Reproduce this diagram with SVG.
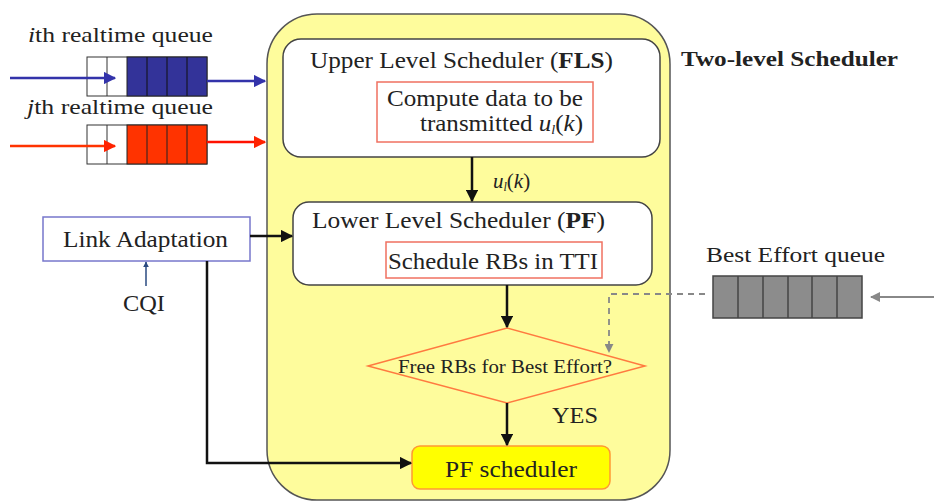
<svg xmlns="http://www.w3.org/2000/svg" width="934" height="501" viewBox="0 0 934 501">
<defs>
<style>
text{font-family:"Liberation Serif","Times New Roman",serif;fill:#222}
.t22{font-size:23px}
.t20{font-size:21px}
.box{fill:#fff;stroke:#444;stroke-width:1.5}
.red{fill:#fff;stroke:#f07060;stroke-width:1.5}
.blk{stroke:#111;stroke-width:2.5;fill:none}
</style>
<marker id="ab" viewBox="0 0 10 10" refX="9" refY="5" markerWidth="5" markerHeight="5" orient="auto"><path d="M0,0L10,5L0,10z" fill="#111"/></marker>
<marker id="ablue" viewBox="0 0 10 10" refX="9" refY="5" markerWidth="5" markerHeight="5" orient="auto"><path d="M0,0L10,5L0,10z" fill="#3333aa"/></marker>
<marker id="ared" viewBox="0 0 10 10" refX="9" refY="5" markerWidth="5" markerHeight="5" orient="auto"><path d="M0,0L10,5L0,10z" fill="#ff2200"/></marker>
<marker id="agray" viewBox="0 0 10 10" refX="9" refY="5" markerWidth="5" markerHeight="5" orient="auto"><path d="M0,0L10,5L0,10z" fill="#888"/></marker>
<marker id="asm" viewBox="0 0 10 10" refX="9" refY="5" markerWidth="4" markerHeight="4" orient="auto"><path d="M0,0L10,5L0,10z" fill="#2a4a80"/></marker>
</defs>
<rect width="934" height="501" fill="#fff"/>

<g id="container">
<rect x="267" y="14" width="403" height="486" rx="50" fill="#fefc9c" stroke="#555" stroke-width="1.5"/>
<text x="681" y="66" style="font-size:20px;font-weight:bold" textLength="217" lengthAdjust="spacingAndGlyphs">Two-level Scheduler</text>
</g>

<g id="queue-i">
<text x="28" y="42" class="t20" textLength="185" lengthAdjust="spacingAndGlyphs"><tspan font-style="italic">i</tspan>th realtime  queue</text>
<rect x="87" y="57" width="120" height="39" fill="#fff" stroke="#333"/>
<line x1="107" y1="57" x2="107" y2="96" stroke="#333"/>
<rect x="127" y="57" width="80" height="39" fill="#333399" stroke="#222"/>
<line x1="147" y1="57" x2="147" y2="96" stroke="#111"/>
<line x1="167" y1="57" x2="167" y2="96" stroke="#111"/>
<line x1="187" y1="57" x2="187" y2="96" stroke="#111"/>
</g>

<g id="queue-j">
<text x="27" y="114" class="t20" textLength="186" lengthAdjust="spacingAndGlyphs"><tspan font-style="italic">j</tspan>th realtime  queue</text>
<rect x="87" y="125" width="120" height="39" fill="#fff" stroke="#333"/>
<line x1="107" y1="125" x2="107" y2="164" stroke="#333"/>
<rect x="127" y="125" width="80" height="39" fill="#ff3300" stroke="#222"/>
<line x1="147" y1="125" x2="147" y2="164" stroke="#222"/>
<line x1="167" y1="125" x2="167" y2="164" stroke="#222"/>
<line x1="187" y1="125" x2="187" y2="164" stroke="#222"/>
</g>

<g id="upper">
<rect x="283" y="39" width="377" height="118" rx="18" class="box"/>
<text x="310" y="68" class="t22" textLength="303" lengthAdjust="spacingAndGlyphs">Upper Level  Scheduler (<tspan font-weight="bold">FLS</tspan>)</text>
<rect x="377" y="82" width="216" height="60" class="red"/>
<text x="387" y="106" class="t22" textLength="196" lengthAdjust="spacingAndGlyphs">Compute data to be</text>
<text x="420" y="131" class="t22" textLength="163" lengthAdjust="spacingAndGlyphs">transmitted <tspan font-style="italic">u</tspan><tspan font-style="italic" font-size="13" dy="3">l</tspan><tspan dy="-3">(</tspan><tspan font-style="italic">k</tspan>)</text>
</g>

<g id="lower">
<rect x="293" y="202" width="359" height="83" rx="16" class="box"/>
<text x="312" y="228" class="t22" textLength="293" lengthAdjust="spacingAndGlyphs">Lower Level  Scheduler (<tspan font-weight="bold">PF</tspan>)</text>
<rect x="386" y="242" width="216" height="36" class="red"/>
<text x="388" y="269" class="t22" textLength="210" lengthAdjust="spacingAndGlyphs">Schedule RBs in TTI</text>
</g>

<g id="link">
<rect x="43" y="217" width="207" height="44" fill="#fff" stroke="#7777cc" stroke-width="1.5"/>
<text x="63" y="247" class="t22" textLength="165" lengthAdjust="spacingAndGlyphs">Link Adaptation</text>
</g>

<g id="cqi">
<text x="123" y="311" class="t22" textLength="42" lengthAdjust="spacingAndGlyphs">CQI</text>
</g>

<g id="best-effort">
<text x="706" y="262" class="t20" textLength="179" lengthAdjust="spacingAndGlyphs">Best Effort queue</text>
<rect x="713" y="276" width="149" height="42" fill="#8c8c8c" stroke="#444" stroke-width="1.5"/>
<line x1="738" y1="276" x2="738" y2="318" stroke="#444" stroke-width="1.5"/>
<line x1="763" y1="276" x2="763" y2="318" stroke="#444" stroke-width="1.5"/>
<line x1="788" y1="276" x2="788" y2="318" stroke="#444" stroke-width="1.5"/>
<line x1="812" y1="276" x2="812" y2="318" stroke="#444" stroke-width="1.5"/>
<line x1="837" y1="276" x2="837" y2="318" stroke="#444" stroke-width="1.5"/>
</g>

<g id="decision">
<polygon points="368,366 507,328 645,366 507,403" fill="none" stroke="#ff7a40" stroke-width="1.5"/>
<text x="398" y="373" style="font-size:18px" textLength="214" lengthAdjust="spacingAndGlyphs">Free RBs for Best Effort?</text>
</g>

<g id="pf">
<rect x="412" y="446" width="198" height="43" rx="8" fill="#ffff00" stroke="#ff9933" stroke-width="1.5"/>
<text x="445" y="477" class="t22" textLength="132" lengthAdjust="spacingAndGlyphs">PF scheduler</text>
</g>

<g id="connectors">
<line x1="10" y1="78" x2="115" y2="78" stroke="#3333aa" stroke-width="2.5" marker-end="url(#ablue)"/>
<line x1="207" y1="81" x2="265" y2="81" stroke="#3333aa" stroke-width="2.5" marker-end="url(#ablue)"/>
<line x1="10" y1="146" x2="115" y2="146" stroke="#ff3300" stroke-width="2.5" marker-end="url(#ared)"/>
<line x1="207" y1="142" x2="265" y2="142" stroke="#ff1100" stroke-width="2.5" marker-end="url(#ared)"/>
<line x1="472" y1="157" x2="472" y2="201" class="blk" marker-end="url(#ab)"/>
<text x="493" y="188" class="t20"><tspan font-style="italic">u</tspan><tspan font-style="italic" font-size="12" dy="3">l</tspan><tspan dy="-3">(</tspan><tspan font-style="italic">k</tspan>)</text>
<line x1="250" y1="236" x2="292" y2="236" class="blk" stroke-width="2" marker-end="url(#ab)"/>
<line x1="146" y1="286" x2="146" y2="262" stroke="#2a4a80" stroke-width="1.5" marker-end="url(#asm)"/>
<polyline points="207,261 207,463 411,463" class="blk" marker-end="url(#ab)"/>
<line x1="507" y1="285" x2="507" y2="327" class="blk" marker-end="url(#ab)"/>
<line x1="507" y1="403" x2="507" y2="445" class="blk" marker-end="url(#ab)"/>
<text x="552" y="423" class="t22" textLength="46" lengthAdjust="spacingAndGlyphs">YES</text>
<polyline points="705,294 609,294 609,352" fill="none" stroke="#888" stroke-width="1.8" stroke-dasharray="6,5" marker-end="url(#agray)"/>
<line x1="934" y1="297" x2="871" y2="297" stroke="#888" stroke-width="2" marker-end="url(#agray)"/>
</g>
</svg>
